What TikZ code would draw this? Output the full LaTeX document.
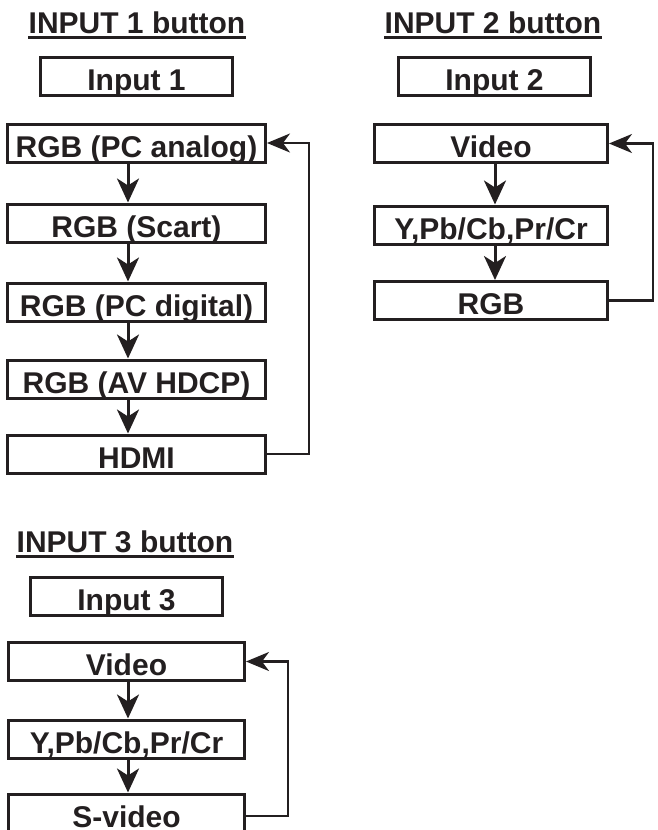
\documentclass[tikz,border=0pt]{standalone}
\usepackage{fontspec}
\setmainfont{Liberation Sans}
\usetikzlibrary{arrows.meta}
\definecolor{ink}{RGB}{35,31,32}
\begin{document}
\begin{tikzpicture}[x=1pt,y=-1pt,
  every node/.style={font=\fontsize{30}{36}\selectfont\bfseries,text=ink},
  title/.style={inner sep=0pt,anchor=base},
  srcbox/.style={draw=ink,line width=3pt,inner sep=0pt,minimum height=38pt,text height=30pt,text depth=2pt},
  flow/.style={draw=ink,line width=3pt,-{Stealth[length=24pt,width=22pt,inset=7pt]}},
  backflow/.style={draw=ink,line width=2.4pt,-{Stealth[length=23pt,width=19pt,inset=7pt]}}]
  \useasboundingbox (0,0) rectangle (658,830);
  \node[title] (t1) at (137,33) {INPUT 1 button};
  \node[title] (t2) at (493,33) {INPUT 2 button};
  \node[title] (t3) at (125,552) {INPUT 3 button};
  \foreach \t in {t1,t2,t3}
    \draw[ink,line width=2.6pt] ([yshift=-4.5pt]\t.base west) -- ([yshift=-4.5pt]\t.base east);
  \node[srcbox,minimum width=192pt] (in1) at (136.5,76.5) {Input 1};
  \node[srcbox,minimum width=192pt] (in2) at (494.5,76.5) {Input 2};
  \node[srcbox,minimum width=192pt] (in3) at (126.5,596.5) {Input 3};
  \node[srcbox,minimum width=258pt] (a1) at (136.5,143) {RGB (PC analog)};
  \node[srcbox,minimum width=258pt] (a2) at (136.5,223) {RGB (Scart)};
  \node[srcbox,minimum width=258pt] (a3) at (136.5,302) {RGB (PC digital)};
  \node[srcbox,minimum width=258pt] (a4) at (136.5,379) {RGB (AV HDCP)};
  \node[srcbox,minimum width=258pt] (a5) at (136.5,454) {HDMI};
  \node[srcbox,minimum width=233pt] (b1) at (491,143.5) {Video};
  \node[srcbox,minimum width=233pt] (b2) at (491,225) {Y,Pb/Cb,Pr/Cr};
  \node[srcbox,minimum width=233pt] (b3) at (491,300.5) {RGB};
  \node[srcbox,minimum width=236pt] (c1) at (126.5,661.5) {Video};
  \node[srcbox,minimum width=236pt] (c2) at (126.5,739) {Y,Pb/Cb,Pr/Cr};
  \node[srcbox,minimum width=236pt] (c3) at (126.5,813) {S-video};
  \foreach \u/\v in {a1/a2,a2/a3,a3/a4,a4/a5}
    \draw[flow] ([xshift=-8.5pt]\u.south) -- ([xshift=-8.5pt]\v.north);
  \foreach \u/\v in {b1/b2,b2/b3}
    \draw[flow] ([xshift=4pt]\u.south) -- ([xshift=4pt]\v.north);
  \foreach \u/\v in {c1/c2,c2/c3}
    \draw[flow] ([xshift=1.5pt]\u.south) -- ([xshift=1.5pt]\v.north);
  \draw[backflow] (a5.east) -- ++(42,0) |- (a1.east);
  \draw[backflow] (b3.east) -- ++(44,0) |- (b1.east);
  \draw[backflow] ([yshift=-3pt]c3.east) -- ++(42,0) |- (c1.east);
\end{tikzpicture}
\end{document}
